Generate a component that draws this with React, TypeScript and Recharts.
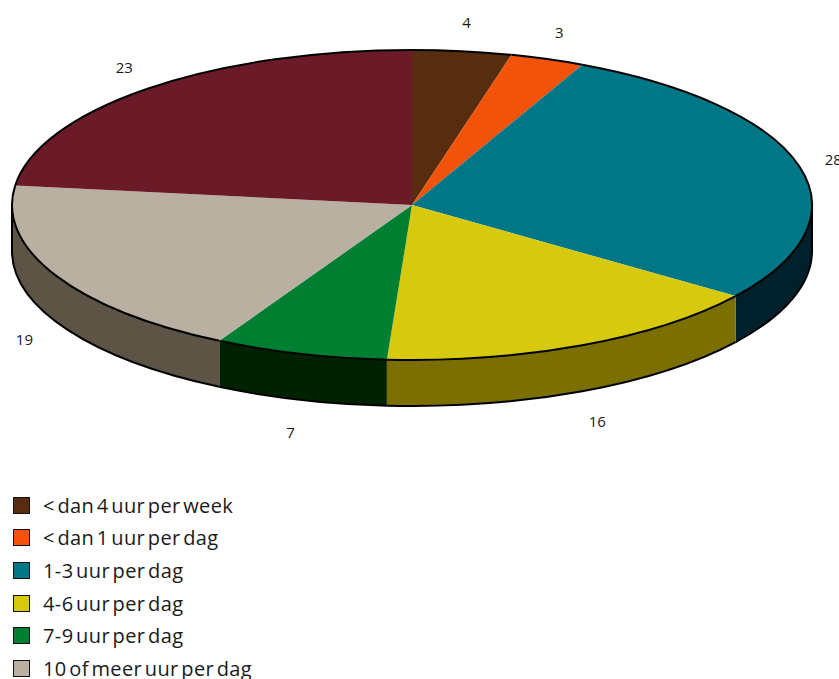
import React from 'react';
import { PieChart, Pie, Cell, Legend } from 'recharts';

const NAMES = [
  '< dan 4 uur per week',
  '< dan 1 uur per dag',
  '1-3 uur per dag',
  '4-6 uur per dag',
  '7-9 uur per dag',
  '10 of meer uur per dag',
  'Geen antwoord',
];
const VALUES = [4, 3, 28, 16, 7, 19, 23];
const COLORS = ['#582c0e', '#f05309', '#007786', '#d7c90e', '#007f33', '#b9b0a1', '#6b1a27'];
const SIDE_COLORS = ['#2c1607', '#782a05', '#00202c', '#7a6f00', '#002200', '#5e5446', '#360d14'];

const data = NAMES.map((name, i) => ({ name, value: VALUES[i] }));

const TILT = 0.3875;
const DEPTH = 46;
const RAD = Math.PI / 180;
const FONT = '"Open Sans", sans-serif';

function renderSlice(props: any) {
  const { cx, cy, startAngle, endAngle, outerRadius, midAngle, index, value } = props;
  const rx = outerRadius;
  const ry = outerRadius * TILT;
  const p = (a: number, d = 0) => [cx + rx * Math.cos(a * RAD), cy - ry * Math.sin(a * RAD) + d];
  const [x1, y1] = p(startAngle);
  const [x2, y2] = p(endAngle);
  const large = startAngle - endAngle > 180 ? 1 : 0;
  const top = `M${cx},${cy} L${x1},${y1} A${rx},${ry} 0 ${large} 1 ${x2},${y2} Z`;
  const topArc = `M${x1},${y1} A${rx},${ry} 0 ${large} 1 ${x2},${y2}`;

  const s = Math.min(startAngle, 0);
  const e = Math.max(endAngle, -180);
  let side: React.ReactNode = null;
  if (s > e) {
    const [sx, sy] = p(s);
    const [ex, ey] = p(e);
    const path = `M${sx},${sy} A${rx},${ry} 0 0 1 ${ex},${ey} L${ex},${ey + DEPTH} A${rx},${ry} 0 0 0 ${sx},${sy + DEPTH} Z`;
    const bottom = `M${sx},${sy + DEPTH} A${rx},${ry} 0 0 1 ${ex},${ey + DEPTH}`;
    side = (
      <g>
        <path d={path} fill={SIDE_COLORS[index]} stroke="none" />
        <path d={bottom} fill="none" stroke="#000" strokeWidth={2} />
        {s === 0 && <line x1={sx} y1={sy} x2={sx} y2={sy + DEPTH} stroke="#000" strokeWidth={2} />}
        {e === -180 && <line x1={ex} y1={ey} x2={ex} y2={ey + DEPTH} stroke="#000" strokeWidth={2} />}
      </g>
    );
  }
  const sinM = Math.sin(midAngle * RAD);
  const lx = cx + (rx + 35) * Math.cos(midAngle * RAD);
  const ly = cy - (ry + 29) * sinM + (sinM < 0 ? 50 : 0);
  return (
    <g key={`slice-${index}`}>
      {side}
      <path d={top} fill={COLORS[index]} stroke="none" />
      <path d={topArc} fill="none" stroke="#000" strokeWidth={2} />
      <text x={lx} y={ly} textAnchor="middle" dominantBaseline="central" fontSize={15} fontFamily={FONT} fill="#1a1a1a">
        {value}
      </text>
    </g>
  );
}

function renderLegend(props: any) {
  const payload: any[] = props.payload || [];
  const ordered = NAMES.map((n, i) => {
    const item = payload.find((p) => p.value === n);
    return { name: item ? item.value : n, color: COLORS[i] };
  });
  return (
    <div style={{ fontFamily: FONT, fontSize: 20, letterSpacing: 0.4, wordSpacing: -3, color: '#1a1a1a' }}>
      {ordered.map((entry, i) => (
        <div key={i} style={{ height: 32.6, display: 'flex', alignItems: 'center', whiteSpace: 'nowrap' }}>
          <span
            style={{
              display: 'inline-block',
              flex: '0 0 auto',
              width: 15,
              height: 15,
              border: '1.5px solid #111',
              background: entry.color,
              marginLeft: 13,
              marginRight: 13,
            }}
          />
          <span>{entry.name}</span>
        </div>
      ))}
    </div>
  );
}

export default function App() {
  return (
    <div style={{ position: 'absolute', left: 0, top: 0, width: 839, height: 679, overflow: 'hidden', background: '#fff' }}>
      <PieChart width={839} height={679} margin={{ top: 0, right: 0, bottom: 0, left: 0 }}>
        <Pie
          data={data}
          dataKey="value"
          nameKey="name"
          cx={412}
          cy={205}
          outerRadius={400}
          startAngle={90}
          endAngle={-270}
          stroke="none"
          labelLine={false}
          label={renderSlice}
          isAnimationActive={false}
        >
          {data.map((d, i) => (
            <Cell key={i} fill={COLORS[i]} fillOpacity={0} />
          ))}
        </Pie>
        <Legend
          content={renderLegend}
          wrapperStyle={{ position: 'absolute', left: 0, top: 489, width: 400, bottom: 'auto' }}
        />
      </PieChart>
    </div>
  );
}
